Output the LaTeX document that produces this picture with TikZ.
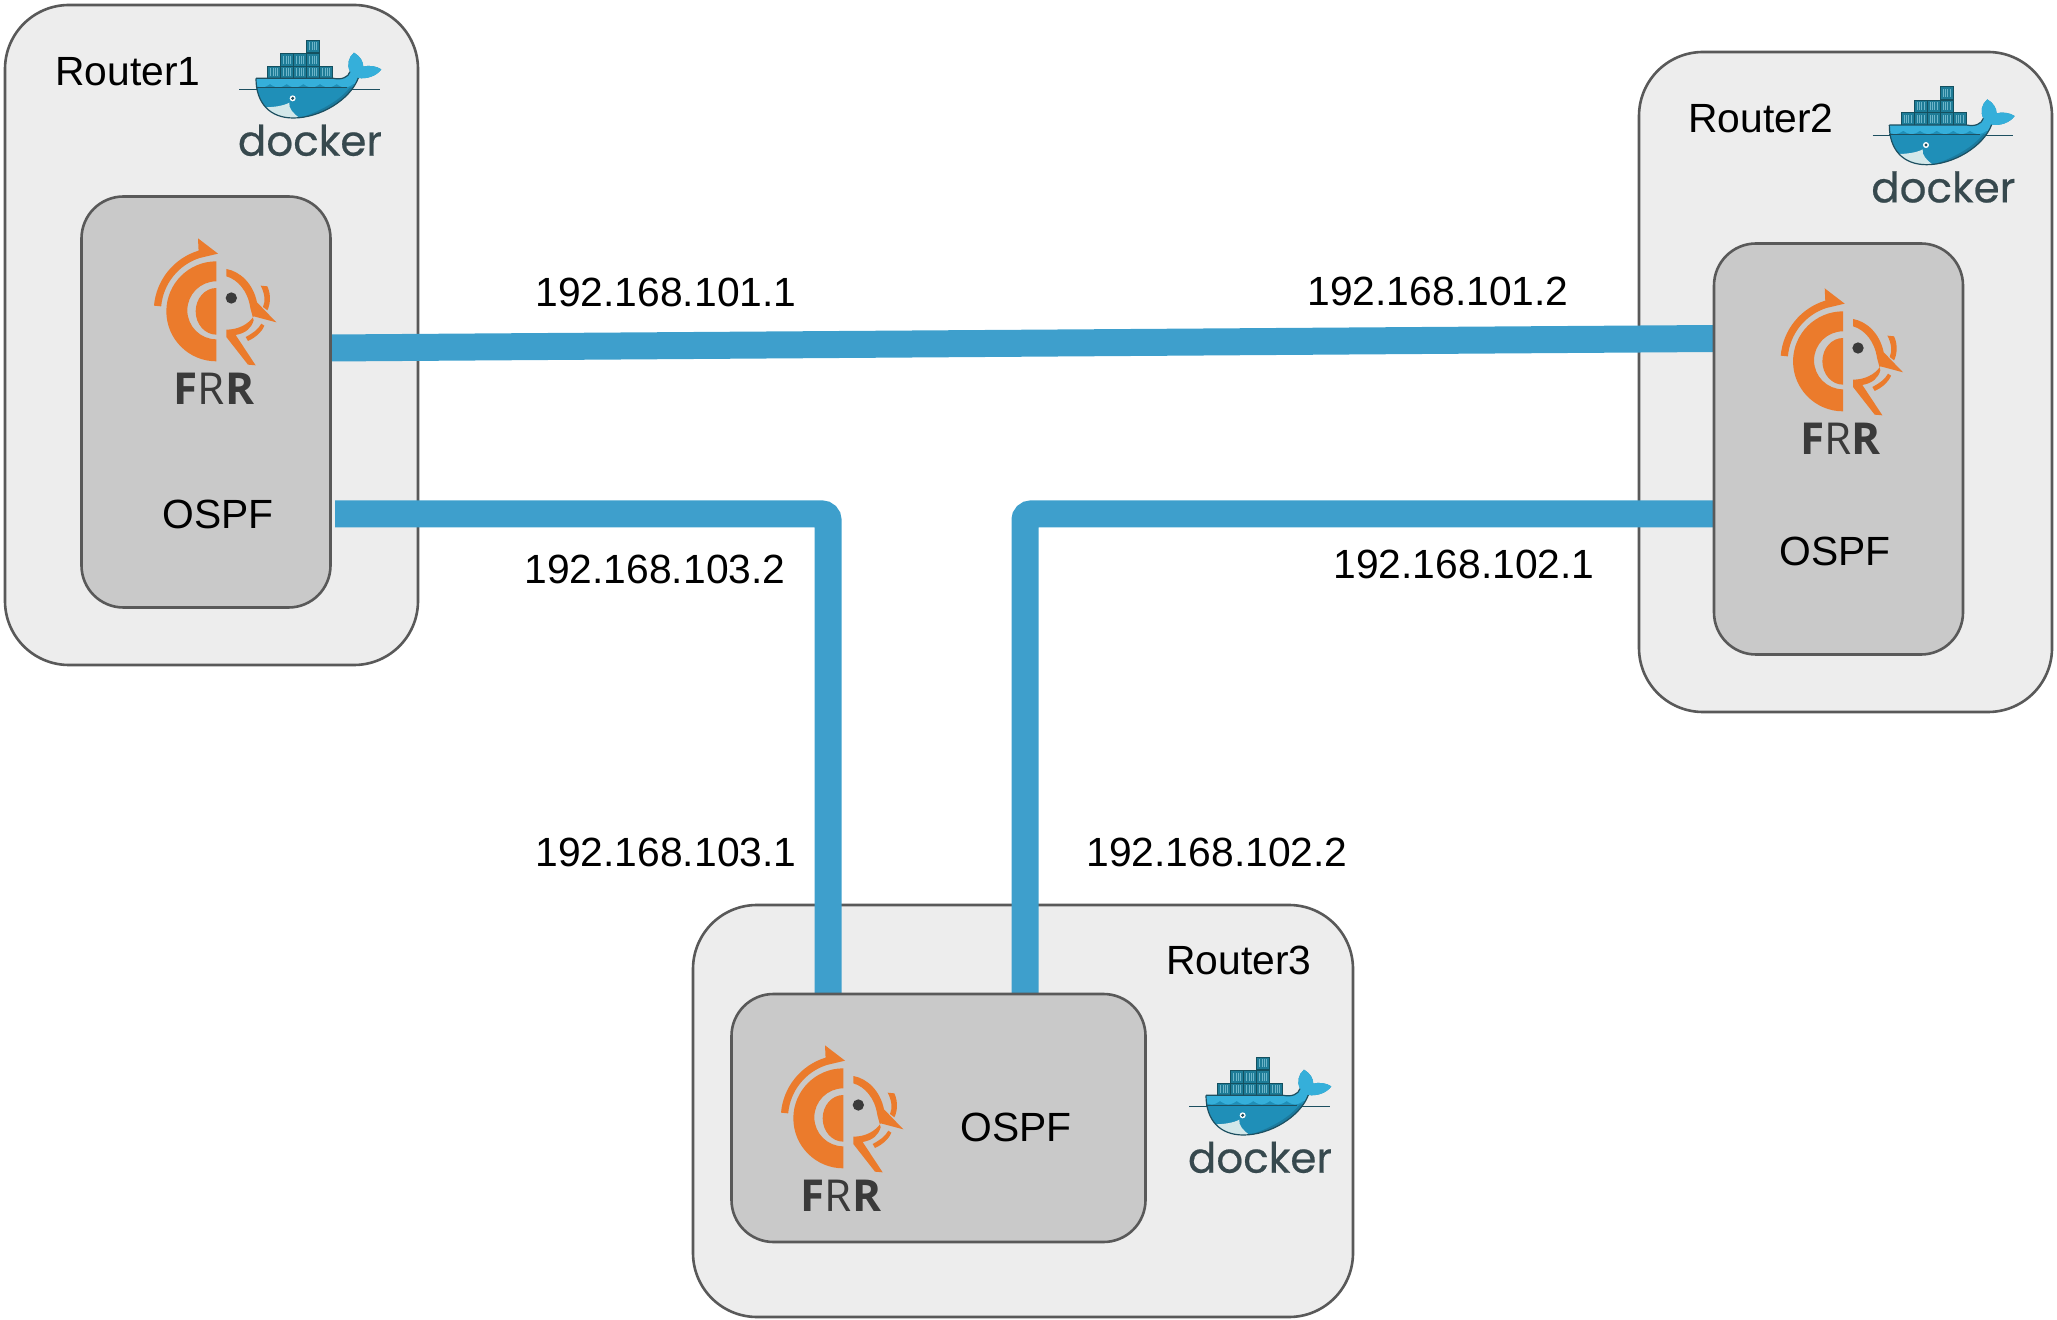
\documentclass[tikz,border=0pt]{standalone}
\usepackage{fontspec}
\setmainfont{Liberation Sans}
\newfontfamily\dockerfont[FakeBold=0.5]{Poppins}
\newfontfamily\frrfont{Open Sans}
\definecolor{boxline}{HTML}{595959}
\definecolor{routerfill}{HTML}{EDEDED}
\definecolor{enginefill}{HTML}{C9C9C9}
\definecolor{linkblue}{HTML}{3E9FCC}
\definecolor{frrorange}{HTML}{EB7B2C}
\definecolor{frrdark}{HTML}{3A3A3A}
\definecolor{dockertext}{HTML}{37494E}
\definecolor{crate}{HTML}{1E7C97}
\definecolor{crateline}{HTML}{14505F}
\definecolor{crateslat}{HTML}{6DB5C9}
\definecolor{whaletop}{HTML}{35AFDA}
\definecolor{whalemid}{HTML}{1F8FB8}
\definecolor{whaledeep}{HTML}{1B7A9E}
\definecolor{whaleline}{HTML}{1D4F60}
\definecolor{whalebelly}{HTML}{D3E8EA}
\tikzset{
    routerbox/.style={draw=boxline,fill=routerfill,line width=1.3pt,rounded corners=32pt,inner sep=0pt,outer sep=0pt},
    routerv/.style={routerbox,minimum width=206.5pt,minimum height=330pt},
    routerh/.style={routerbox,minimum width=330pt,minimum height=206pt},
    enginebox/.style={draw=boxline,fill=enginefill,line width=1.3pt,rounded corners=21pt,inner sep=0pt,outer sep=0pt},
    enginev/.style={enginebox,minimum width=124.5pt,minimum height=205.5pt},
    engineh/.style={enginebox,minimum width=207pt,minimum height=124pt},
    label/.style={font=\fontsize{20.4}{24}\selectfont,text=black,inner sep=0pt},
    link/.style={draw=linkblue,line width=13.5pt,rounded corners=3pt},
    frrlogo/.pic={
        \begin{scope}[scale=1/3,shift={(-652,-940)}]
            \fill[frrorange] (650,1085) arc[start angle=90,end angle=270,radius=150] -- (650,845) arc[start angle=270,end angle=90,radius=87] -- cycle;
            \fill[frrorange] (650,865) arc[start angle=270,end angle=90,x radius=62,y radius=70] -- cycle;
            \fill[frrorange] (463,918) arc[start angle=185,end angle=253,radius=190] -- (595,716) -- (655,762) -- (600,775) arc[start angle=252,end angle=185,radius=168] -- cycle;
            \fill[frrorange] (680,808) .. controls (720,815) and (760,850) .. (772,908) -- (830,968) -- (762,950) .. controls (745,975) and (715,990) .. (680,990) -- (680,1012) -- (745,1095) -- (768,1097) -- (708,1006) .. controls (740,1000) and (755,985) .. (762,962) -- (752,925) .. controls (745,875) and (715,840) .. (680,830) -- cycle;
            \fill[frrorange] (783,858) -- (803,860) .. controls (815,885) and (812,915) .. (803,932) -- (790,922) .. controls (798,905) and (795,880) .. (783,858) -- cycle;
            \fill[frrorange] (738,1012) .. controls (760,1000) and (775,990) .. (785,972) -- (794,978) .. controls (785,1000) and (765,1015) .. (745,1024) -- cycle;
            \fill[frrdark] (695,895) circle[radius=17];
            \node[text=frrdark,inner sep=0pt,font=\frrfont\fontsize{22}{24}\selectfont] at (643,1167) {\textbf{F}R\textbf{R}};
        \end{scope}
    },
    dockerlogo/.pic={
        \begin{scope}[scale=1/3,shift={(-930,-300)}]
            \foreach \cx/\cy in {803/198,842/198,881/198,920/198,959/198,842/160,881/160,920/160,920/120}{
                \draw[fill=crate,draw=crateline,line width=0.4pt] (\cx,\cy) rectangle ++(39,38);
                \foreach \sx in {9,16,23,30}{
                    \draw[crateslat,line width=0.25pt] (\cx+\sx,\cy+7) -- (\cx+\sx,\cy+31);
                }
            }
            \draw[whaleline,line width=0.35pt] (718,267) -- (1140,267);
            \begin{scope}
                \clip (768,235) -- (1000,235) .. controls (1025,240) and (1045,232) .. (1050,215) .. controls (1040,195) and (1045,172) .. (1062,158) .. controls (1080,168) and (1090,185) .. (1090,200) .. controls (1105,195) and (1130,198) .. (1144,208) .. controls (1130,228) and (1100,238) .. (1075,234) .. controls (1050,300) and (960,354) .. (880,354) .. controls (810,354) and (768,310) .. (768,235) -- cycle;
                \fill[whalemid] (760,150) rectangle (1150,360);
                \fill[whaletop] (760,150) rectangle (1150,252);
                \fill[whaletop] (760,252) \foreach \wx in {0,1,2,3,4,5}{ .. controls (780+50*\wx,266) and (790+50*\wx,266) .. (810+50*\wx,252) } -- (1150,252) -- cycle;
                \fill[whaledeep] (900,354) .. controls (970,330) and (1020,300) .. (1050,262) -- (1090,262) -- (1090,360) -- cycle;
                \fill[whalebelly] (790,322) .. controls (820,322) and (850,318) .. (868,308) .. controls (865,325) and (880,340) .. (898,354) -- (790,360) -- cycle;
            \end{scope}
            \draw[whaleline,line width=0.6pt] (768,235) -- (1000,235) .. controls (1025,240) and (1045,232) .. (1050,215) (1075,234) .. controls (1050,300) and (960,354) .. (880,354) .. controls (810,354) and (768,310) .. (768,235);
            \draw[whaleline,line width=0.5pt] (768,264) -- (1040,264);
            \fill[white] (878,295) circle[radius=9];
            \fill[whaleline] (878,295) circle[radius=5];
            \node[text=dockertext,inner sep=0pt,font=\dockerfont\fontsize{21}{24}\selectfont] at (930,421) {docker};
        \end{scope}
    }
}
\begin{document}
\begin{tikzpicture}[x=0.5pt,y=-0.5pt]
    \useasboundingbox (0,0) rectangle (2057,1320);

    \node[routerv] (router1) at (211.5,335) {};
    \node[routerv] (router2) at (1845.5,382) {};
    \node[routerh] (router3) at (1023,1111) {};

    \coordinate (port1a) at (330,348);
    \coordinate (port1b) at (335,514);
    \coordinate (port2a) at (1714,338.5);
    \coordinate (port2b) at (1714,514);
    \coordinate (port3a) at (828,994);
    \coordinate (port3b) at (1025,994);

    \draw[link] (port1a) -- (port2a);
    \draw[link] (port1b) -- (port1b -| port3a) -- (port3a);
    \draw[link] (port2b) -- (port2b -| port3b) -- (port3b);

    \node[enginev] (engine1) at (206,402) {};
    \node[enginev] (engine2) at (1838.5,449) {};
    \node[engineh] (engine3) at (938.5,1118) {};

    \pic (frr1) at (217,313) {frrlogo};
    \pic (frr2) at (1843.7,363) {frrlogo};
    \pic (frr3) at (844,1120) {frrlogo};
    \pic (docker1) at (310,100) {dockerlogo};
    \pic (docker2) at (1943.3,146.7) {dockerlogo};
    \pic (docker3) at (1260,1117) {dockerlogo};

    \node[label] (name1) at (128,72) {Router1};
    \node[label] (name2) at (1761,118) {Router2};
    \node[label] (name3) at (1239,960) {Router3};
    \node[label] (ospf1) at (218,514) {OSPF};
    \node[label] (ospf2) at (1835,551) {OSPF};
    \node[label] (ospf3) at (1016,1127) {OSPF};

    \node[label] (ip1011) at (666,292) {192.168.101.1};
    \node[label] (ip1012) at (1438,291) {192.168.101.2};
    \node[label] (ip1032) at (655,569) {192.168.103.2};
    \node[label] (ip1021) at (1464,564) {192.168.102.1};
    \node[label] (ip1031) at (666,852) {192.168.103.1};
    \node[label] (ip1022) at (1217,852) {192.168.102.2};
\end{tikzpicture}
\end{document}
